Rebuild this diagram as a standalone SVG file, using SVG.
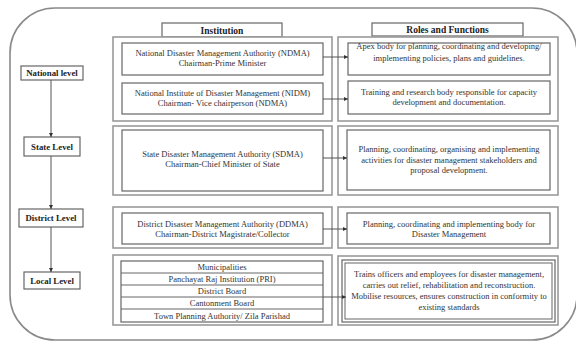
<svg xmlns="http://www.w3.org/2000/svg" width="576" height="342" viewBox="0 0 576 342">
<style>
text{font-family:"Liberation Serif","Times New Roman",serif;fill:#333;text-anchor:middle}
.t{font-size:8.5px}
.h{font-size:9.5px;font-weight:bold;fill:#222}
.lv{font-size:8.8px;font-weight:bold;fill:#222}
.frame{fill:none;stroke:#8a8a8a;stroke-width:1.6}
.cont{fill:#fff;stroke:#9a9a9a;stroke-width:1.6}
.box{fill:#fff;stroke:#666;stroke-width:1.2}
.lb{fill:#fff;stroke:#666;stroke-width:1.2}
.row{fill:none;stroke:#666;stroke-width:1}
.conn{fill:none;stroke:#555;stroke-width:1}
</style>
<defs>
<marker id="ah" viewBox="0 0 6 6" refX="6" refY="3" markerWidth="4" markerHeight="4" orient="auto" markerUnits="userSpaceOnUse">
<path d="M0,0 L6,3 L0,6 Z" fill="#333"/>
</marker>
</defs>
<rect class="frame" x="10" y="8" width="567" height="332" rx="45" ry="45"/>

<g id="hdr-inst"><rect class="box" x="162" y="23" width="120" height="14"/><text class="h" x="222" y="33.5">Institution</text></g>
<g id="hdr-roles"><rect class="box" x="372" y="23" width="151" height="13"/><text class="h" x="447.5" y="33">Roles and Functions</text></g>

<g id="lvl-national"><rect class="lb" x="21" y="66" width="62" height="14"/><text class="lv" x="52" y="76">National level</text></g>
<g id="lvl-state"><rect class="lb" x="24" y="137" width="56" height="19"/><text class="lv" x="52" y="149.5">State Level</text></g>
<g id="lvl-district"><rect class="lb" x="19" y="209" width="64" height="18"/><text class="lv" x="51" y="221">District Level</text></g>
<g id="lvl-local"><rect class="lb" x="24" y="272" width="56" height="17"/><text class="lv" x="52" y="283.5">Local Level</text></g>

<g id="inst-national">
<rect class="cont" x="113" y="37" width="219" height="84"/>
<rect class="box" x="122" y="43" width="201" height="32"/>
<text class="t" x="222.5" y="56">National Disaster Management Authority (NDMA)</text>
<text class="t" x="222.5" y="66">Chairman-Prime Minister</text>
<rect class="box" x="122" y="83" width="201" height="31"/>
<text class="t" x="222.5" y="96">National Institute of Disaster Management (NIDM)</text>
<text class="t" x="222.5" y="106">Chairman- Vice chairperson (NDMA)</text>
</g>
<g id="roles-national">
<rect class="cont" x="338" y="37" width="220" height="84"/>
<rect class="box" x="348" y="43" width="202" height="32"/>
<text class="t" x="449" y="49">Apex body for planning, coordinating and developing/</text>
<text class="t" x="449" y="61">implementing policies, plans and guidelines.</text>
<rect class="box" x="348" y="81" width="202" height="33"/>
<text class="t" x="449" y="95">Training and research body responsible for capacity</text>
<text class="t" x="449" y="105">development and documentation.</text>
</g>

<g id="inst-state">
<rect class="cont" x="113" y="126" width="219" height="69"/>
<rect class="box" x="122" y="130" width="201" height="61"/>
<text class="t" x="222.5" y="157">State Disaster Management Authority (SDMA)</text>
<text class="t" x="222.5" y="167">Chairman-Chief Minister of State</text>
</g>
<g id="roles-state">
<rect class="cont" x="338" y="126" width="220" height="69"/>
<rect class="box" x="347" y="130" width="203" height="60"/>
<text class="t" x="449" y="152">Planning, coordinating, organising and implementing</text>
<text class="t" x="449" y="162.5">activities for disaster management stakeholders and</text>
<text class="t" x="449" y="173">proposal development.</text>
</g>

<g id="inst-district">
<rect class="cont" x="113" y="207" width="219" height="41"/>
<rect class="box" x="122" y="213" width="201" height="31"/>
<text class="t" x="222.5" y="227">District Disaster Management Authority (DDMA)</text>
<text class="t" x="222.5" y="237">Chairman-District Magistrate/Collector</text>
</g>
<g id="roles-district">
<rect class="cont" x="338" y="207" width="220" height="41"/>
<rect class="box" x="347" y="213" width="203" height="31"/>
<text class="t" x="449" y="227">Planning, coordinating and implementing body for</text>
<text class="t" x="449" y="237">Disaster Management</text>
</g>

<g id="inst-local">
<rect class="cont" x="113" y="255" width="219" height="70"/>
<rect class="box" x="121" y="261" width="202" height="61"/>
<line class="row" x1="121" y1="273" x2="323" y2="273"/>
<line class="row" x1="121" y1="285" x2="323" y2="285"/>
<line class="row" x1="121" y1="297" x2="323" y2="297"/>
<line class="row" x1="121" y1="309" x2="323" y2="309"/>
<text class="t" x="222" y="270">Municipalities</text>
<text class="t" x="222" y="282">Panchayat Raj Institution (PRI)</text>
<text class="t" x="222" y="294">District Board</text>
<text class="t" x="222" y="306">Cantonment Board</text>
<text class="t" x="222" y="318.5">Town Planning Authority/ Zila Parishad</text>
</g>
<g id="roles-local">
<rect class="cont" x="338" y="256" width="220" height="69"/>
<rect class="box" x="342" y="260" width="213" height="62"/>
<rect class="row" x="345" y="263" width="207" height="56"/>
<text class="t" x="449" y="277">Trains officers and employees for disaster management,</text>
<text class="t" x="449" y="288">carries out relief, rehabilitation and reconstruction.</text>
<text class="t" x="449" y="299">Mobilise resources, ensures construction in conformity to</text>
<text class="t" x="449" y="310">existing standards</text>
</g>

<g id="connectors">
<line class="conn" x1="51" y1="80" x2="51" y2="137" marker-end="url(#ah)"/>
<line class="conn" x1="51" y1="156" x2="51" y2="209" marker-end="url(#ah)"/>
<line class="conn" x1="51" y1="227" x2="51" y2="272" marker-end="url(#ah)"/>
<line class="conn" x1="323" y1="57" x2="348" y2="57" marker-end="url(#ah)"/>
<line class="conn" x1="323" y1="99" x2="348" y2="99" marker-end="url(#ah)"/>
<line class="conn" x1="323" y1="158" x2="347" y2="158" marker-end="url(#ah)"/>
<line class="conn" x1="323" y1="229" x2="347" y2="229" marker-end="url(#ah)"/>
<line class="conn" x1="323" y1="297" x2="346" y2="297" marker-end="url(#ah)"/>
</g>
</svg>
